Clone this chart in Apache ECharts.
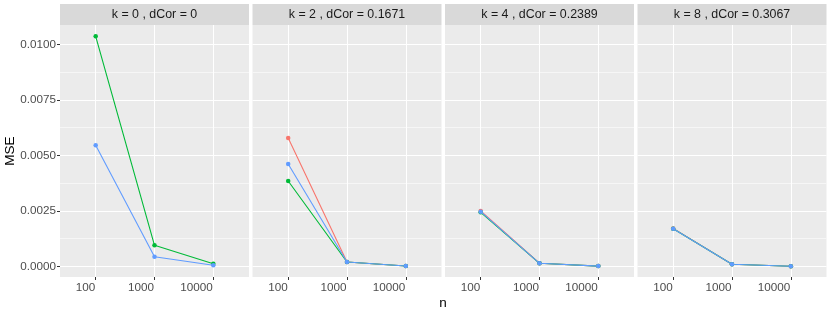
<!DOCTYPE html>
<html>
<head>
<meta charset="utf-8">
<script src="https://cdn.jsdelivr.net/npm/echarts@6/dist/echarts.min.js"></script>
<style>
html,body{margin:0;padding:0;background:#fff;}
#chart{width:830px;height:312px;}
</style>
</head>
<body>
<div id="chart"></div>
<script>
// ---- data ----
const panelLabels = ['k = 0 , dCor = 0', 'k = 2 , dCor = 0.1671', 'k = 4 , dCor = 0.2389', 'k = 8 , dCor = 0.3067'];
const nValues = [100, 1000, 10000];
const xTickValues = [100, 1000, 10000];
const yMajorTicks = [0, 0.0025, 0.005, 0.0075, 0.01];
const yMinorTicks = [0.00125, 0.00375, 0.00625, 0.00875];
// MSE per panel (k = 0, 2, 4, 8), one array per method
const mseRed = [
  [null, null, null],
  [0.00578, 0.000194, 0.000013],
  [0.00249, 0.000137, 0.000010],
  [0.00170, 0.000090, 0.000005]
];
const mseGreen = [
  [0.01036, 0.000946, 0.000117],
  [0.00384, 0.000192, 0.000013],
  [0.00243, 0.000135, 0.000010],
  [0.00169, 0.000090, 0.000005]
];
const mseBlue = [
  [0.00545, 0.000432, 0.000045],
  [0.00461, 0.000192, 0.000013],
  [0.00246, 0.000135, 0.000010],
  [0.00169, 0.000090, 0.000005]
];
const methodColors = ['#F8766D', '#00BA38', '#619CFF'];

// ---- layout ----
const PANEL_LEFT = [60, 252.5, 445, 637.5];
const PANEL_W = 189;
const PANEL_TOP = 25;
const PANEL_H = 252;
const STRIP_TOP = 4;
const STRIP_H = 21;
const X_MIN = 1.393, X_MAX = 4.607;
const Y_MIN = -0.000482, Y_MAX = 0.010869;
const FONT = 'Liberation Sans, Arial, Helvetica, sans-serif';

const grids = [], xAxes = [], yAxes = [], series = [], graphics = [];
const allY = yMinorTicks.concat(yMajorTicks).sort((a, b) => a - b);
const lineColors = allY.map(v => yMajorTicks.indexOf(v) >= 0 ? '#ffffff' : '#f6f6f6');
const xTickLog = xTickValues.map(v => Math.log10(v));

PANEL_LEFT.forEach((left, p) => {
  grids.push({ left: left, top: PANEL_TOP, width: PANEL_W, height: PANEL_H, show: true, backgroundColor: '#ebebeb', borderWidth: 0, containLabel: false });
  xAxes.push({
    type: 'value', gridIndex: p, min: X_MIN, max: X_MAX, position: 'bottom',
    axisLine: { show: false, onZero: false },
    axisTick: { show: true, customValues: xTickLog, length: 3, lineStyle: { color: '#333333', width: 1 } },
    axisLabel: { show: true, customValues: xTickLog, color: '#4d4d4d', fontSize: 11.7, fontFamily: FONT, margin: 5, align: 'right', padding: [0, 0.5, 0, 0],
      formatter: v => String(Math.round(Math.pow(10, v))) },
    splitLine: { show: true, lineStyle: { color: '#ffffff', width: 1 } }
  });
  yAxes.push({
    type: 'value', gridIndex: p, min: Y_MIN, max: Y_MAX,
    axisLine: { show: false, onZero: false },
    axisTick: { show: false, customValues: allY },
    axisLabel: { show: false, customValues: allY },
    splitLine: { show: true, lineStyle: { color: lineColors, width: 1 } }
  });
  graphics.push({ type: 'rect', shape: { x: left, y: STRIP_TOP, width: PANEL_W, height: STRIP_H }, style: { fill: '#d9d9d9' }, silent: true });
  graphics.push({ type: 'text', x: left + PANEL_W / 2, y: STRIP_TOP + STRIP_H / 2 + 0.5,
    style: { text: panelLabels[p], fill: '#1a1a1a', fontSize: 12.4, fontFamily: FONT, align: 'center', verticalAlign: 'middle' }, silent: true });
});
// label axis for first panel
yAxes.push({
  type: 'value', gridIndex: 0, min: Y_MIN, max: Y_MAX, position: 'left',
  axisLine: { show: false, onZero: false },
  axisTick: { show: true, customValues: yMajorTicks, length: 3, lineStyle: { color: '#333333', width: 1 } },
  axisLabel: { show: true, customValues: yMajorTicks, color: '#4d4d4d', fontSize: 11.7, fontFamily: FONT, margin: 4,
    formatter: v => v.toFixed(4) },
  splitLine: { show: false }
});

const methods = [mseRed, mseGreen, mseBlue];
PANEL_LEFT.forEach((left, p) => {
  methods.forEach((m, mi) => {
    const vals = m[p];
    if (vals.every(v => v === null)) return;
    series.push({
      type: 'line', xAxisIndex: p, yAxisIndex: p,
      data: nValues.map((n, i) => [Math.log10(n), vals[i]]),
      symbol: 'circle', symbolSize: 4.5, showSymbol: true,
      itemStyle: { color: methodColors[mi] },
      lineStyle: { color: methodColors[mi], width: 1.1 },
      emphasis: { disabled: true }, silent: true, z: 3 + mi
    });
  });
});

graphics.push({ type: 'text', x: 443, y: 303, style: { text: 'n', fill: '#000000', fontSize: 13.5, fontFamily: FONT, align: 'center', verticalAlign: 'middle' }, silent: true });
graphics.push({ type: 'text', x: 10, y: 151, rotation: Math.PI / 2, style: { text: 'MSE', fill: '#000000', fontSize: 13.5, fontFamily: FONT, align: 'center', verticalAlign: 'middle' }, silent: true });

const chart = echarts.init(document.getElementById('chart'), null, { renderer: 'canvas' });
chart.setOption({
  animation: false,
  backgroundColor: '#ffffff',
  grid: grids, xAxis: xAxes, yAxis: yAxes, series: series, graphic: graphics,
  tooltip: { show: false }
});
</script>
</body>
</html>
